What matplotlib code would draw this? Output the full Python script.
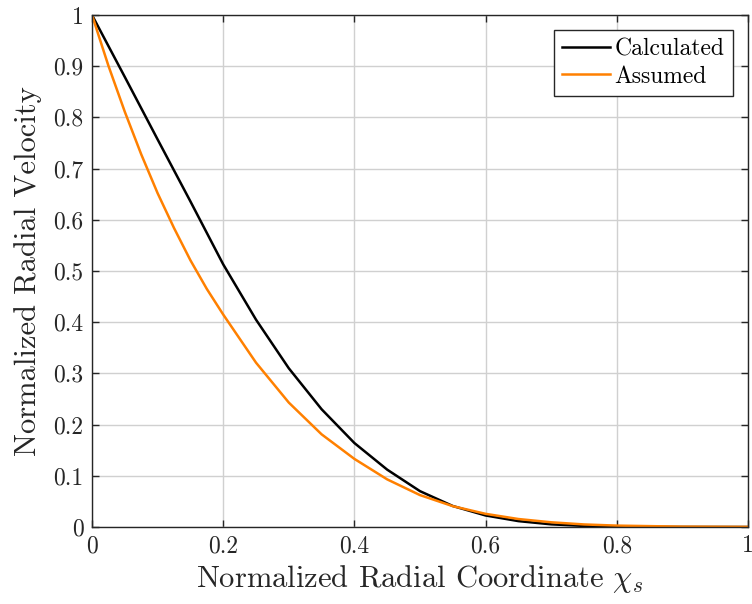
import numpy as np
import matplotlib
matplotlib.use("Agg")
import matplotlib.pyplot as plt

# values
calc_x = [0, 0.05, 0.1, 0.15, 0.2, 0.25, 0.3, 0.35, 0.4, 0.45, 0.5, 0.55,
          0.6, 0.65, 0.7, 0.75, 0.8, 0.85, 0.9, 1.0]
calc_y = [1, 0.879, 0.757, 0.636, 0.513, 0.405, 0.31, 0.23, 0.164, 0.112, 0.07, 0.041,
          0.0225, 0.0115, 0.0052, 0.0021, 0.0008, 0.0003, 0.0001, 0.0]

assm_x = [0, 0.025, 0.05, 0.075, 0.1, 0.125, 0.15, 0.175, 0.2, 0.25, 0.3, 0.35,
          0.4, 0.45, 0.5, 0.55, 0.6, 0.65, 0.7, 0.75, 0.8, 0.9, 1.0]
assm_y = [1, 0.901, 0.811, 0.728, 0.652, 0.584, 0.521, 0.465, 0.415, 0.321, 0.243, 0.181,
          0.133, 0.093, 0.0623, 0.0407, 0.0257, 0.0156, 0.0092, 0.005, 0.0027, 0.0007, 0.00015]

xticks = [0, 0.2, 0.4, 0.6, 0.8, 1]
yticks = [0, 0.1, 0.2, 0.3, 0.4, 0.5, 0.6, 0.7, 0.8, 0.9, 1]

plt.rcParams['font.family'] = 'serif'
plt.rcParams['font.serif'] = ['cmr10']
plt.rcParams['mathtext.fontset'] = 'cm'
plt.rcParams['axes.formatter.use_mathtext'] = True

fig = plt.figure(figsize=(7.52, 6.04), dpi=100)
ax = fig.add_axes([92/752, 77/604, 656/752, 512/604])

ax.plot(calc_x, calc_y, color="black", lw=1.8, label="Calculated")
ax.plot(assm_x, assm_y, color="#ff8000", lw=1.8, label="Assumed")

ax.set_xlim(0, 1)
ax.set_ylim(0, 1)
ax.set_xticks(xticks)
ax.set_yticks(yticks)
ax.set_xticklabels([("%g" % t) for t in xticks])
ax.set_yticklabels([("%g" % t) for t in yticks])
ax.grid(True, color="#d0d0d0", lw=1)
ax.set_axisbelow(True)
ax.tick_params(direction="in", top=True, right=True, length=5, width=1,
               color="#262626", labelsize=17, labelcolor="#262626", pad=6)
for s in ax.spines.values():
    s.set_color("#262626")
    s.set_linewidth(1)

ax.set_xlabel(r"Normalized Radial Coordinate $\chi_s$", fontsize=22, color="#262626", labelpad=4)
ax.set_ylabel("Normalized Radial Velocity", fontsize=22, color="#262626", labelpad=8)

leg = ax.legend(loc="upper right", fontsize=17, fancybox=False, framealpha=1,
                edgecolor="#262626", borderaxespad=0.65, handlelength=2.0,
                borderpad=0.35, labelspacing=0.2, handletextpad=0.2)
leg.get_frame().set_linewidth(1)

fig.savefig("out.png", dpi=100)
